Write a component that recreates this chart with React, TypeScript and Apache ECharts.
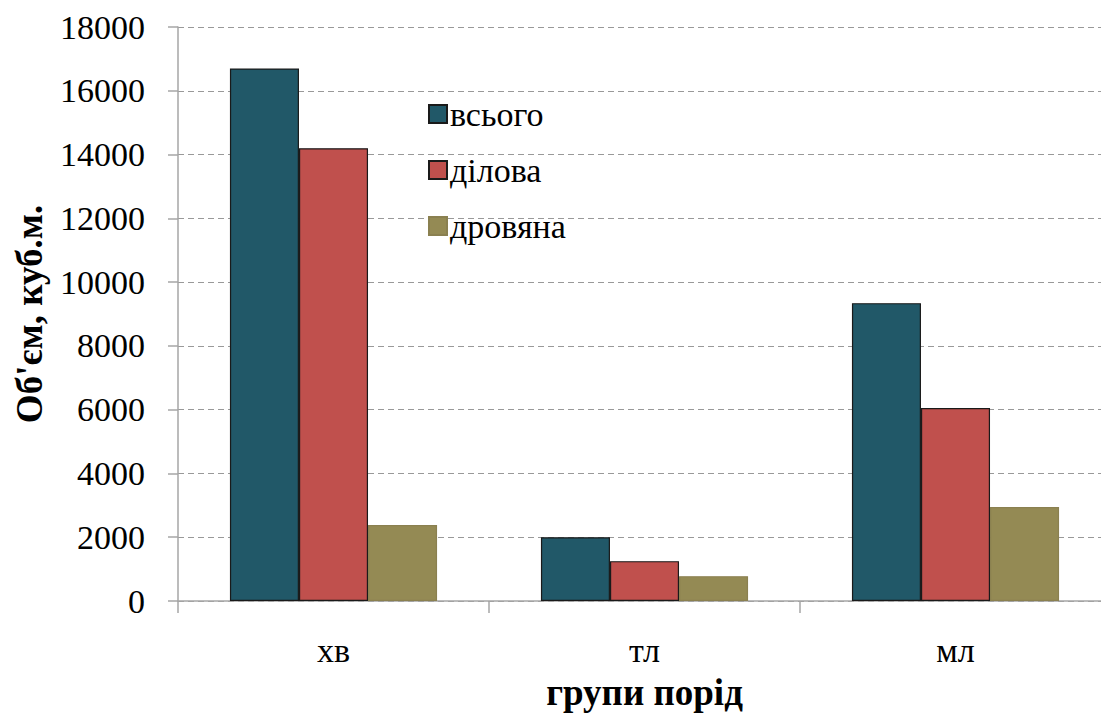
import React, { useEffect, useRef } from "react";
import * as echarts from "echarts";

const categories = ["хв", "тл", "мл"];
const seriesNames = ["всього", "ділова", "дровяна"];
const totalValues = [16700, 2000, 9340];
const businessValues = [14200, 1250, 6050];
const firewoodValues = [2380, 780, 2950];
const yTicks = { min: 0, max: 18000, interval: 2000 };

const FONT = "'Liberation Serif', 'Times New Roman', serif";

export default function App() {
  const ref = useRef<HTMLDivElement>(null);
  useEffect(() => {
    const chart = echarts.init(ref.current!, null, { renderer: "svg" });
    const colors = ["#215868", "#C0504D", "#948A54"];
    const borders = ["#1a1a1a", "#1a1a1a", "#8a8050"];
    const values = [totalValues, businessValues, firewoodValues];
    chart.setOption({
      animation: false,
      backgroundColor: "#ffffff",
      textStyle: { fontFamily: FONT },
      grid: { left: 178, right: 0, top: 27, bottom: 112, containLabel: false, outerBoundsMode: "none" },
      legend: {
        orient: "vertical",
        left: 423,
        top: 92,
        itemWidth: 18,
        itemHeight: 18,
        itemGap: 22,
        icon: "rect",
        textStyle: { fontFamily: FONT, fontSize: 34, color: "#000", lineHeight: 34, padding: [0, 0, 0, -2] },
        data: seriesNames,
      },
      xAxis: {
        type: "category",
        data: categories,
        name: "групи порід",
        nameLocation: "middle",
        nameGap: 73,
        nameTextStyle: { fontFamily: FONT, fontSize: 37, fontWeight: "bold", color: "#000" },
        axisLine: { lineStyle: { color: "#a6a6a6", width: 1.5 } },
        axisTick: { show: true, length: 12, lineStyle: { color: "#a6a6a6", width: 1.5 } },
        axisLabel: { fontFamily: FONT, fontSize: 34, color: "#000", margin: 32 },
      },
      yAxis: {
        type: "value",
        min: yTicks.min,
        max: yTicks.max,
        interval: yTicks.interval,
        name: "Об'єм, куб.м.",
        nameLocation: "middle",
        nameGap: 130,
        nameRotate: 90,
        nameTextStyle: { fontFamily: FONT, fontSize: 37, fontWeight: "bold", color: "#000" },
        axisLine: { show: true, lineStyle: { color: "#a6a6a6", width: 1.5 } },
        axisTick: { show: true, length: 10, lineStyle: { color: "#a6a6a6", width: 1.5 } },
        axisLabel: { fontFamily: FONT, fontSize: 34, color: "#000", margin: 33, formatter: (v: number) => String(v) },
        splitLine: { show: true, lineStyle: { color: "#999", type: [6, 4], width: 1.2 } },
      },
      series: seriesNames.map((name, i) => ({
        name,
        type: "bar",
        data: values[i],
        barGap: "0%",
        barCategoryGap: "33.4%",
        itemStyle: { color: colors[i], borderColor: borders[i], borderWidth: 1.2 },
      })),
    });
    return () => chart.dispose();
  }, []);
  return (
    <div style={{ position: "absolute", left: 0, top: 0, width: 1101, height: 713, overflow: "hidden" }}>
      <div ref={ref} style={{ width: 1111, height: 713 }} />
    </div>
  );
}
